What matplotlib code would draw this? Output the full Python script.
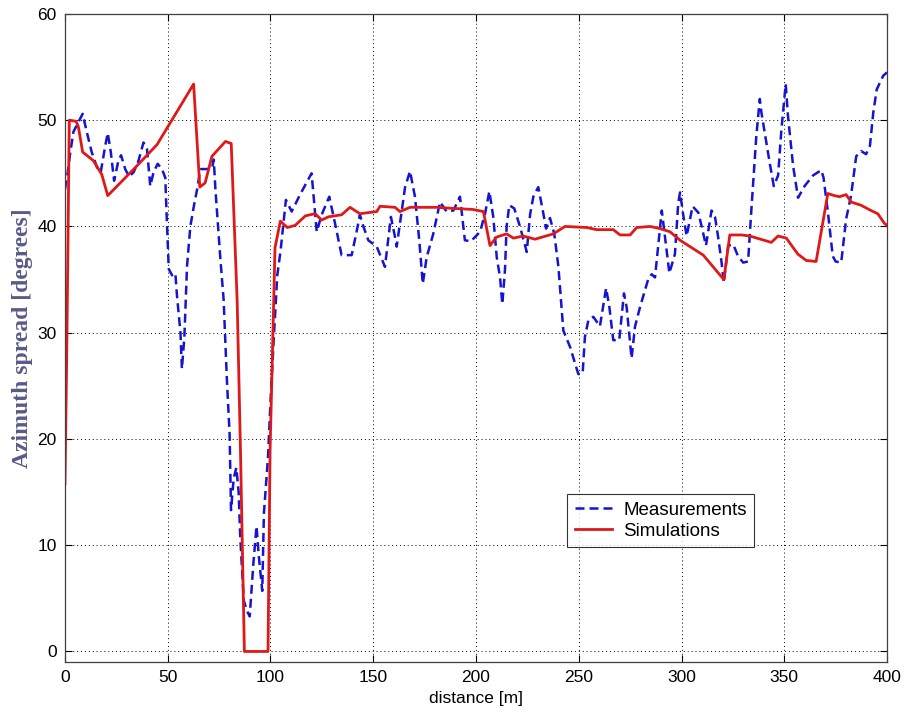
import numpy as np
import matplotlib
matplotlib.use("Agg")
import matplotlib.pyplot as plt

plt.rcParams["font.family"] = ["Liberation Sans", "DejaVu Sans"]

# measured azimuth spread along the route
meas_x = [0, 1.2, 2.4, 4.1, 5.7, 8.6, 10.6, 13.0, 15.5, 17.4, 19.6, 20.8, 22.3,
          23.9, 26.0, 27.3, 29.3, 31.2, 33.4, 35.8, 38.2, 39.9, 41.5, 43.1,
          45.1, 47.2, 48.8, 49.6, 50.5, 52.1, 53.7, 54.5, 56.2, 56.9, 58.1,
          59.4, 61.0, 62.7, 64.3, 65.9, 69.1, 71.6, 72.4, 73.2, 75.6, 77.2,
          78.8, 80.1, 80.8, 82.1, 83.4, 84.5, 85.3, 87.0, 88.6, 89.9, 91.6,
          93.2, 94.3, 96.0, 96.8, 98.8, 100.1, 101.7, 103.3, 104.9, 107.5,
          110.3, 114.4, 120.0, 122.5, 124.9, 128.6, 131.4, 134.6, 139.5,
          141.9, 143.5, 145.2, 147.6, 151.7, 155.7, 158.6, 160.6, 161.4,
          163.3, 165.5, 167.9, 170.3, 172.4, 174.1, 176.0, 179.2, 182.5,
          185.7, 189.0, 192.2, 194.6, 197.5, 202.0, 204.4, 206.5, 208.4,
          210.1, 211.7, 212.8, 214.1, 214.9, 216.2, 218.6, 221.4, 224.7,
          226.3, 227.9, 230.3, 232.5, 234.1, 236.0, 238.1, 240.1, 242.5,
          245.7, 249.8, 251.9, 253.0, 254.7, 257.1, 260.3, 263.3, 264.9,
          266.8, 269.7, 272.0, 273.3, 275.7, 277.4, 279.8, 283.9, 285.5,
          287.1, 290.4, 292.8, 294.1, 296.8, 298.4, 299.3, 300.9, 302.5,
          305.4, 308.2, 309.8, 311.9, 314.6, 316.3, 317.9, 319.5, 320.6,
          322.7, 325.2, 327.5, 330.0, 332.4, 334.0, 336.4, 338.1, 338.9,
          341.3, 342.9, 344.9, 347.0, 348.6, 350.7, 351.8, 354.3, 356.7,
          359.9, 364.0, 368.0, 369.1, 371.2, 373.6, 375.0, 377.7, 380.1,
          382.5, 385.0, 387.4, 389.8, 391.7, 393.3, 395.0, 398.2, 400.0]
meas_y = [43.5, 44.9, 46.7, 48.9, 49.5, 50.6, 48.9, 47.0, 45.6, 45.1, 47.6,
          48.8, 47.0, 44.3, 46.2, 46.7, 45.4, 44.7, 45.1, 46.2, 47.9, 47.3,
          43.8, 45.1, 45.9, 45.4, 44.6, 40.4, 36.0, 35.4, 35.6, 33.5, 30.0,
          26.6, 29.6, 36.3, 40.0, 41.9, 43.5, 45.4, 45.4, 45.5, 46.3, 43.5,
          37.0, 33.1, 25.5, 20.5, 13.3, 16.3, 17.3, 15.0, 10.7, 4.8, 3.8,
          3.3, 8.1, 11.8, 9.0, 5.7, 13.0, 18.3, 23.9, 29.8, 35.4, 37.7, 42.5,
          41.4, 43.0, 45.0, 39.5, 41.1, 42.8, 40.3, 37.3, 37.3, 39.5, 41.1,
          40.0, 38.7, 38.1, 36.2, 40.9, 39.0, 38.1, 40.7, 43.7, 45.2, 42.8,
          38.7, 34.6, 37.1, 39.3, 42.3, 41.4, 41.5, 42.8, 38.7, 38.6, 39.5,
          41.2, 43.3, 40.9, 37.1, 35.2, 32.7, 35.9, 40.0, 42.0, 41.7, 40.0,
          37.6, 41.1, 42.8, 43.7, 41.5, 39.8, 40.8, 39.3, 36.2, 30.2, 28.7,
          26.1, 26.2, 29.6, 31.2, 31.5, 30.6, 34.2, 32.4, 29.3, 29.3, 33.7,
          32.4, 27.6, 30.6, 32.4, 35.1, 35.5, 35.2, 41.5, 37.7, 35.6, 37.4,
          42.2, 43.2, 41.0, 39.1, 41.9, 41.3, 40.0, 38.2, 41.5, 40.9, 38.9,
          36.6, 34.7, 38.2, 38.3, 37.2, 36.6, 36.7, 41.6, 48.5, 52.0, 50.7,
          47.9, 46.0, 43.8, 44.8, 49.1, 53.4, 50.4, 45.7, 42.7, 43.8, 44.8,
          45.3, 44.6, 41.4, 37.2, 36.7, 36.6, 40.7, 42.9, 46.6, 47.1, 46.8,
          47.6, 50.7, 52.9, 54.2, 54.5]

# simulated azimuth spread
sim_x = [0, 0.8, 2.1, 5.4, 6.5, 8.6, 13.8, 17.9, 20.8, 33.0, 44.8, 62.6,
         65.6, 68.2, 71.5, 78.1, 80.9, 83.8, 85.4, 87.3, 98.8, 99.8, 102.2,
         104.8, 108.2, 112.0, 117.0, 121.7, 124.9, 128.1, 134.6, 138.7,
         143.5, 151.7, 153.3, 160.6, 163.0, 167.9, 180.9, 188.8, 198.5,
         203.6, 206.8, 210.0, 214.9, 218.2, 223.0, 228.7, 237.6, 243.3,
         253.9, 258.7, 266.8, 270.1, 275.0, 278.2, 284.7, 289.5, 294.4,
         299.3, 310.6, 320.6, 323.5, 329.2, 333.2, 343.7, 347.0, 351.0,
         356.6, 360.7, 365.5, 371.2, 374.4, 376.9, 380.1, 382.5, 387.3,
         392.2, 395.5, 398.7, 400.0]
sim_y = [15.8, 27.0, 50.0, 49.9, 49.4, 47.0, 46.2, 44.9, 42.9, 45.3, 47.7,
         53.4, 43.7, 44.1, 46.6, 48.0, 47.8, 32.9, 18.9, 0.0, 0.0, 18.9, 38.0,
         40.5, 39.9, 40.1, 41.0, 41.2, 40.6, 40.9, 41.1, 41.8, 41.2, 41.4,
         41.9, 41.8, 41.4, 41.8, 41.8, 41.7, 41.6, 41.4, 38.2, 39.0, 39.3,
         38.9, 39.1, 38.8, 39.3, 40.0, 39.9, 39.7, 39.7, 39.2, 39.2, 39.9,
         40.0, 39.8, 39.5, 38.7, 37.3, 35.0, 39.2, 39.2, 39.1, 38.5, 39.1,
         38.9, 37.4, 36.8, 36.7, 43.1, 42.9, 42.8, 43.0, 42.3, 42.0, 41.5,
         41.2, 40.3, 40.1]

fig = plt.figure(figsize=(9.19, 7.15), dpi=100)
ax = fig.add_axes([0.0707, 0.074, 0.8945, 0.9065])

ax.plot(meas_x, meas_y, color="#1414d2", lw=1.8, dashes=(3.6, 2.0),
        label="Measurements")
ax.plot(sim_x, sim_y, color="#e01818", lw=2.0, label="Simulations")

ax.set_xlim(0, 400)
ax.set_ylim(-1, 60)
ax.set_xticks(np.arange(0, 401, 50))
ax.set_yticks(np.arange(0, 61, 10))
ax.grid(True, color="black", linestyle=(0, (1, 3)), linewidth=0.7)
ax.tick_params(direction="in", top=True, right=True, labelsize=12.5, length=5,
               pad=6)
for sp in ax.spines.values():
    sp.set_linewidth(0.9)
    sp.set_color("#404040")

ax.set_xlabel("distance [m]", fontsize=12.5, labelpad=4)
ax.set_ylabel("Azimuth spread [degrees]", fontsize=17, fontweight="bold",
              family="Liberation Serif", color="#5a5a88")
ax.yaxis.set_label_coords(-0.039, 0.5)

leg = ax.legend(loc="lower left", bbox_to_anchor=(0.611, 0.177),
                fontsize=13.5, frameon=True, fancybox=False,
                handlelength=2.0, handletextpad=0.6, borderaxespad=0,
                borderpad=0.4, labelspacing=0.2)
leg.get_frame().set_edgecolor("black")
leg.get_frame().set_linewidth(0.8)

fig.savefig("out.png", dpi=100)
